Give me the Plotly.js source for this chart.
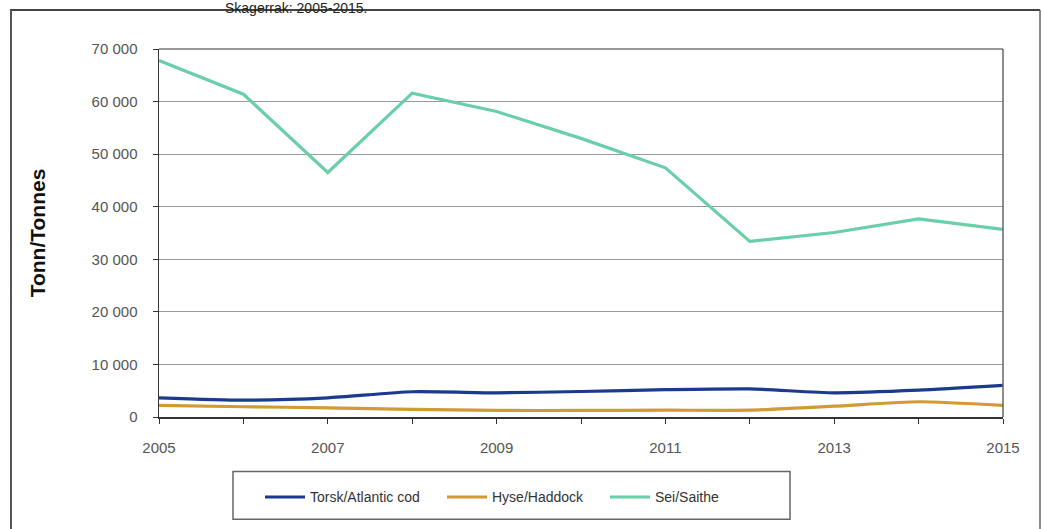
<!DOCTYPE html>
<html>
<head>
<meta charset="utf-8">
<script src="https://cdn.plot.ly/plotly-3.0.1.min.js"></script>
<style>
html,body{margin:0;padding:0;background:#fff;}
#chart{width:1042px;height:529px;}
</style>
</head>
<body>
<div id="chart"></div>
<script>
const years = [2005, 2006, 2007, 2008, 2009, 2010, 2011, 2012, 2013, 2014, 2015];
const cod = [3650, 3200, 3650, 4800, 4600, 4850, 5200, 5350, 4600, 5100, 6000];
const haddock = [2200, 1950, 1750, 1450, 1250, 1250, 1300, 1300, 2050, 2900, 2200];
const saithe = [67800, 61400, 46500, 61600, 58100, 53000, 47400, 33400, 35100, 37700, 35700];
const seriesNames = ["Torsk/Atlantic cod", "Hyse/Haddock", "Sei/Saithe"];
const titleText = "Skagerrak: 2005-2015.";
const yTitle = "Tonn/Tonnes";

const FONT = "Liberation Sans, Arial, sans-serif";
const W = 1042, H = 529;
const L = 159, R = 1003, T = 49, B = 417.5;
const px2x = p => (p - L) / (R - L);
const px2y = p => (B - p) / (B - T);

const traces = [
  {x: years, y: cod, name: seriesNames[0], mode: "lines", legend: "legend",
   line: {color: "#1b3a8c", width: 3.2, shape: "spline", smoothing: 0.6}},
  {x: years, y: haddock, name: seriesNames[1], mode: "lines", legend: "legend2",
   line: {color: "#d09a34", width: 3.2, shape: "spline", smoothing: 0.6}},
  {x: years, y: saithe, name: seriesNames[2], mode: "lines", legend: "legend3",
   line: {color: "#6acfa8", width: 3.2}}
];

function leg(px) {
  return {
    orientation: "h",
    x: px2x(px), y: px2y(482), xanchor: "left", yanchor: "top",
    bgcolor: "rgba(0,0,0,0)", borderwidth: 0,
    font: {family: FONT, size: 14, color: "#333"},
    itemwidth: 40
  };
}

const layout = {
  width: W, height: H,
  margin: {l: L, r: W - R, t: T, b: H - B, pad: 0},
  paper_bgcolor: "#ffffff",
  plot_bgcolor: "#ffffff",
  separators: ", ",
  font: {family: FONT, size: 14, color: "#444"},
  showlegend: true,
  legend: leg(260),
  legend2: leg(442),
  legend3: leg(605),
  xaxis: {
    range: [2005, 2015],
    tickmode: "linear", tick0: 2005, dtick: 2,
    ticks: "outside", ticklen: 5, tickcolor: "#333", tickwidth: 1,
    minor: {dtick: 1, tick0: 2005, ticks: "outside", ticklen: 5, tickcolor: "#333", tickwidth: 1, showgrid: false},
    showgrid: false, zeroline: false,
    showline: true, linecolor: "#333", linewidth: 1.5,
    tickfont: {family: FONT, size: 15, color: "#555"},
    ticklabelstandoff: 11,
    fixedrange: true
  },
  yaxis: {
    range: [0, 70000],
    tickmode: "linear", tick0: 0, dtick: 10000,
    tickformat: ",d",
    ticks: "outside", ticklen: 5, tickcolor: "#333", tickwidth: 1,
    showgrid: true, gridcolor: "#999", gridwidth: 1,
    zeroline: false,
    showline: true, linecolor: "#333", linewidth: 1.5,
    tickfont: {family: FONT, size: 15, color: "#555"},
    ticklabelstandoff: 12,
    title: {text: yTitle, standoff: 40, font: {family: FONT, size: 21, color: "#111", weight: "bold"}},
    fixedrange: true
  },
  shapes: [
    {type: "line", xref: "paper", yref: "paper", x0: 0, x1: 1, y0: 1, y1: 1, line: {color: "#777", width: 1.5}},
    {type: "line", xref: "paper", yref: "paper", x0: 1, x1: 1, y0: 0, y1: 1, line: {color: "#666", width: 1.5}},
    {type: "line", xref: "paper", yref: "paper", x0: px2x(10), x1: px2x(1040), y0: px2y(10), y1: px2y(10), line: {color: "#444", width: 2}},
    {type: "line", xref: "paper", yref: "paper", x0: px2x(11), x1: px2x(11), y0: px2y(10), y1: px2y(540), line: {color: "#555", width: 2}},
    {type: "line", xref: "paper", yref: "paper", x0: px2x(1040), x1: px2x(1040), y0: px2y(10), y1: px2y(540), line: {color: "#666", width: 1.5}},
    {type: "rect", xref: "paper", yref: "paper", x0: px2x(233), x1: px2x(790), y0: px2y(472), y1: px2y(520), line: {color: "#666", width: 1.5}, fillcolor: "rgba(0,0,0,0)"}
  ],
  annotations: [
    {text: titleText, xref: "paper", yref: "paper", x: px2x(296), y: px2y(-1), xanchor: "center", yanchor: "top",
     showarrow: false, borderpad: 0, font: {family: FONT, size: 14, color: "#222"}}
  ]
};

Plotly.newPlot("chart", traces, layout, {displayModeBar: false, staticPlot: true});
</script>
</body>
</html>
